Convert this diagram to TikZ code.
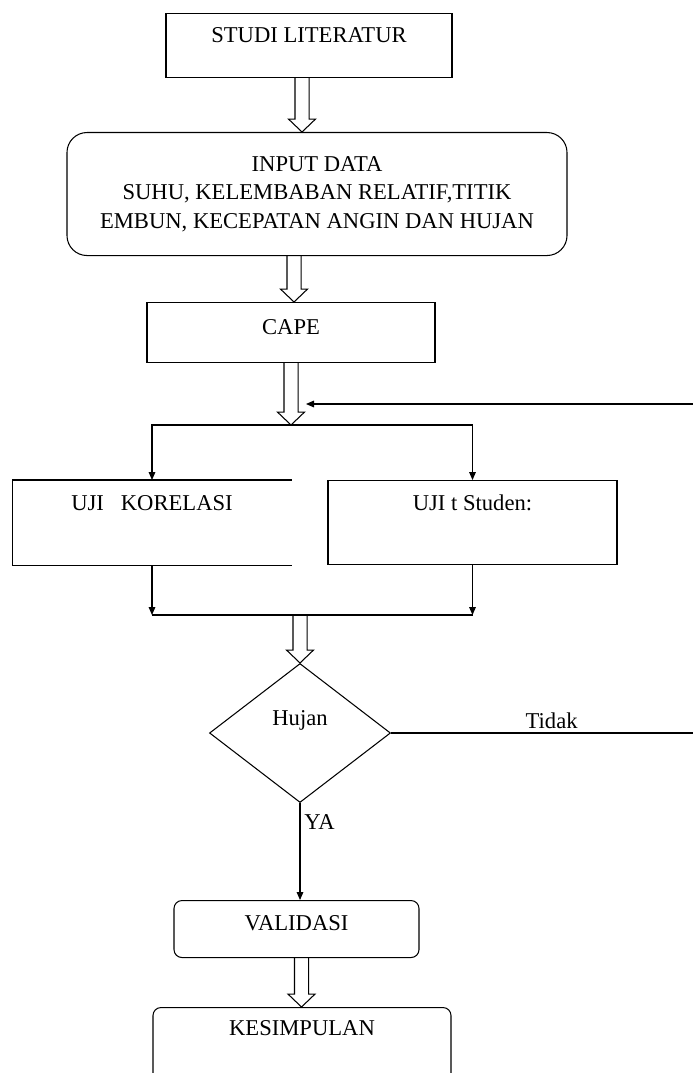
\documentclass[tikz,border=0pt]{standalone}
\usepackage{fontspec}
\setmainfont{Liberation Serif}
\usetikzlibrary{arrows.meta,positioning,calc,shapes.geometric}

% panah tebal (hollow) dari #2 ke #3, geser x #1
\newcommand{\panahtebal}[3][0]{%
  \draw[garis] let \p1=($(#2)+(#1,0)$), \p2=(#3) in
    (\x1-6pt,\y1) -- (\x1-6pt,\y2+11pt) -- (\x1-11.5pt,\y2+11pt) -- (\x1,\y2)
    -- (\x1+11.5pt,\y2+11pt) -- (\x1+6pt,\y2+11pt) -- (\x1+6pt,\y1);}

\begin{document}
\begin{tikzpicture}[x=0.03cm, y=-0.03cm,
  font=\fontsize{19.3}{24.5}\selectfont,
  garis/.style={line width=0.9pt},
  panah/.style={garis, -{Triangle[length=0.24cm, width=0.2cm]}},
  kotak/.style={draw, garis, inner xsep=0pt, inner ysep=0pt, anchor=north},
  kotakbulat/.style={kotak, rounded corners=0.24cm},
  keputusan/.style={diamond, draw, garis, inner sep=0pt, minimum width=5.43cm,
    minimum height=4.17cm, text height=0.45cm, text depth=0.93cm}
]
  \useasboundingbox (0,0) rectangle (692,1073);

  \node[kotak, minimum width=8.58cm, text height=0.87cm, text depth=1.05cm] (studi) at (309,13) {STUDI LITERATUR};
  \node[kotak, rounded corners=0.6cm, minimum width=15cm, minimum height=3.69cm, align=center] (input) at (317,132)
    {INPUT DATA\\SUHU, KELEMBABAN RELATIF,TITIK\\EMBUN, KECEPATAN ANGIN DAN HUJAN};
  \node[kotak, minimum width=8.64cm, text height=0.96cm, text depth=0.84cm] (cape) at (291,302) {CAPE};
  \coordinate (cabang) at (292,425);

  % dua uji
  \node[kotak, draw=none, minimum width=8.34cm, text height=0.9cm, text depth=1.62cm] (korelasi) at (152,480) {UJI~~~KORELASI};
  \draw[garis] (korelasi.north east) -- (korelasi.north west) -- (korelasi.south west) -- (korelasi.south east);
  \node[kotak, minimum width=8.67cm, text height=0.9cm, text depth=1.62cm] (student) at (472.5,480) {UJI t Studen:};
  \coordinate (gabung) at (300,615);

  \node[keputusan] (hujan) at (300,733) {Hujan};
  \node[kotakbulat, minimum width=7.35cm, text height=0.9cm, text depth=0.81cm] (validasi) at (296.5,900) {VALIDASI};
  \node[kotakbulat, minimum width=8.94cm, text height=0.84cm, text depth=1.95cm] (simpul) at (302,1007) {KESIMPULAN};

  \panahtebal[-7]{studi.south}{input.north}
  \panahtebal[-23]{input.south}{cape.north}
  \panahtebal{cape.south}{cabang}
  \draw[panah] (cabang) -| (korelasi.north);
  \draw[panah] (cabang) -| (student.north);
  \draw[panah] (korelasi.south) -- (korelasi.south |- gabung);
  \draw[panah] (student.south) -- (student.south |- gabung);
  \draw[garis] (korelasi.south |- gabung) -- (student.south |- gabung);
  \panahtebal{gabung}{hujan.north}

  % umpan balik
  \coordinate (balik) at (694,733);
  \coordinate (masuk) at (306,404);
  \draw[panah] (hujan.east) -- node[above, pos=0.53] {Tidak} (balik) |- (masuk);
  \draw[panah] (hujan.south) -- node[right, pos=0.2] {YA} (hujan.south |- validasi.north);
  \panahtebal[5]{validasi.south}{simpul.north}
\end{tikzpicture}
\end{document}
